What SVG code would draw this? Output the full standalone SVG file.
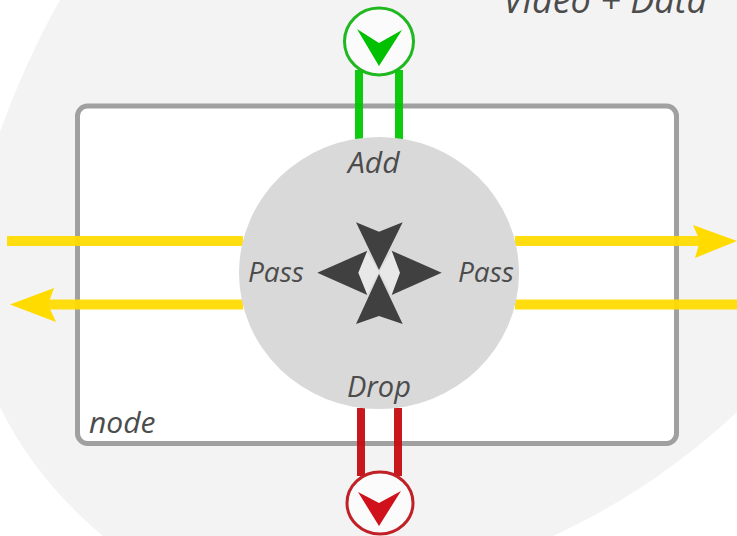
<svg xmlns="http://www.w3.org/2000/svg" width="737" height="536" viewBox="0 0 737 536">
<style>
text{font-family:"Open Sans","Liberation Sans",sans-serif;font-style:italic;fill:#4c4c4c;font-size:27px}
.y{fill:none;stroke:#ffdb00;stroke-width:10;stroke-opacity:.94}
.g{fill:none;stroke:#00c800;stroke-width:8;stroke-opacity:.94}
.r{fill:none;stroke:#c40a10;stroke-width:8;stroke-opacity:.94}
</style>
<rect width="737" height="536" fill="#fff"/>
<path id="background" d="M60,0C36,42 15,90 0,132L0,407C25,458 60,500 103,536L553,536C620,505 680,465 737,412L737,0Z" fill="#f3f3f3"/>
<g id="node-box">
<rect x="77.5" y="106" width="599" height="337.5" rx="10" fill="#fff" stroke="#a0a0a0" stroke-width="5"/>
<text x="89" y="433" style="font-size:30px">node</text>
</g>
<g id="connectors">
<path class="g" d="M359,70V139M399,70V139"/>
<path class="r" d="M361,408V476M398,408V476"/>
<path class="y" d="M7,241H243M515,241H702M515,304.5H737M46,304.5H243"/>
<path d="M10,304.5L54,288L48,304.5L56,322Z" fill="#ffdb00"/>
<path d="M737,241L693,225L700,241L695,258Z" fill="#ffdb00"/>
</g>
<g id="hub">
<ellipse cx="379" cy="273" rx="140" ry="136" fill="#d9d9d9"/>
<path d="M358,272.7L367,251L379,272L367,295Z M400,272.7L391.7,251L379,272L391.7,295Z" fill="#e8e8e8"/>
<path d="M356,222.3L379,231.7L402.7,222.3L379,270Z M379,274L402.7,324L379,316L356,324Z M317.3,272.7L367.3,250.7L358.3,272.7L367.3,295Z M441.7,272.7L391.7,250.7L400,272.7L391.7,295Z" fill="#404040"/>
<text x="348" y="173" style="font-size:30px">Add</text>
<text x="248" y="282" style="font-size:28px">Pass</text>
<text x="458" y="282" style="font-size:28px">Pass</text>
<text x="347" y="397" style="font-size:29px">Drop</text>
</g>
<g id="add-port">
<ellipse cx="379" cy="41.5" rx="34.5" ry="33.5" fill="#fbfbfb" stroke="#1fb81f" stroke-width="3"/>
<path d="M357,29L379,43L402,30L379,66Z" fill="#00c000"/>
</g>
<g id="drop-port">
<ellipse cx="380" cy="503" rx="33" ry="31" fill="#fbfbfb" stroke="#c02026" stroke-width="3"/>
<path d="M358,492L379,503L401,491L379,526Z" fill="#d0101a"/>
</g>
<text id="title" x="503" y="13" style="font-size:36px">Video + Data</text>
</svg>
